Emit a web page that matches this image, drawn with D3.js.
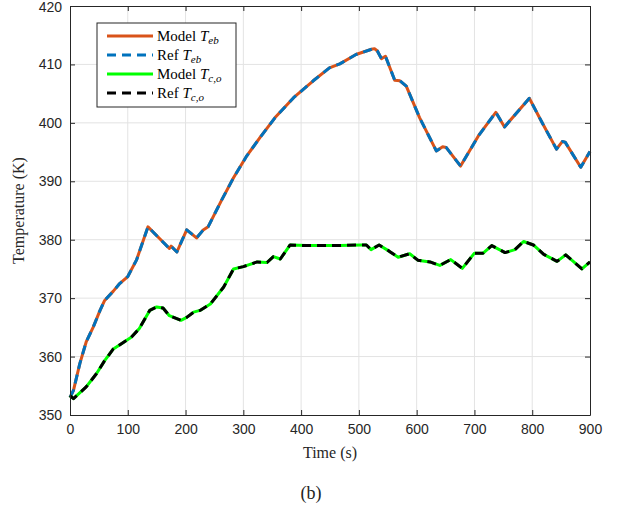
<!DOCTYPE html>
<html>
<head>
<meta charset="utf-8">
<script src="https://cdn.jsdelivr.net/npm/d3@7"></script>
<style>
  body { margin: 0; background: #fff; }
  svg { display: block; }
</style>
</head>
<body>
<svg id="chart" width="623" height="512"></svg>
<script>
// time (s) and temperature (K)
const ebTime = [0, 6, 17, 28, 40, 52, 60, 75, 86, 100, 115, 135, 155, 172, 175, 185, 202, 219, 230, 239, 262, 283, 305, 329, 355, 387, 421, 449, 467, 495, 522, 527, 532, 539, 546, 562, 571, 582, 605, 634, 645, 651, 676, 707, 737, 752, 795, 817, 842, 852, 857, 884, 900];
const ebModel = [353.0, 354.2, 358.8, 362.5, 365, 367.9, 369.6, 371.2, 372.5, 373.7, 376.5, 382.2, 380.2, 378.5, 378.9, 377.9, 381.7, 380.3, 381.6, 382.2, 386.7, 390.6, 394.2, 397.5, 400.9, 404.3, 407.2, 409.4, 410.1, 411.7, 412.6, 412.7, 412.3, 411, 411.4, 407.3, 407.2, 406.3, 400.9, 395.2, 395.9, 395.8, 392.6, 397.8, 401.8, 399.3, 404.2, 400.05, 395.5, 396.8, 396.7, 392.4, 395.1];

const coTime = [0, 6, 28, 46, 60, 75, 89, 106, 120, 138, 150, 161, 172, 192, 202, 214, 225, 243, 266, 283, 300, 324, 341, 352, 364, 381, 410, 467, 504, 513, 521, 535, 553, 568, 588, 602, 623, 640, 659, 679, 700, 715, 730, 753, 770, 785, 802, 820, 843, 858, 886, 900];
const coModel = [353.3, 352.8, 354.8, 357.1, 359.3, 361.3, 362.2, 363.3, 364.8, 367.9, 368.5, 368.3, 367, 366.2, 366.7, 367.6, 367.9, 369, 371.9, 375, 375.4, 376.2, 376.1, 377.1, 376.7, 379.1, 379, 379, 379.1, 379.1, 378.3, 379.1, 378, 377, 377.6, 376.5, 376.2, 375.6, 376.6, 375.1, 377.7, 377.7, 379, 377.8, 378.3, 379.7, 379.1, 377.5, 376.3, 377.4, 375, 376.2];

const xTicks = [0, 100, 200, 300, 400, 500, 600, 700, 800, 900];
const yTicks = [350, 360, 370, 380, 390, 400, 410, 420];

const legendItems = [
  { name: "Model", sub: "eb", sub2: null, color: "#D95319", dash: null, x: ebTime, y: ebModel },
  { name: "Ref", sub: "eb", sub2: null, color: "#0072BD", dash: "9,6", x: ebTime, y: ebModel },
  { name: "Model", sub: "c", sub2: "o", color: "#00FF00", dash: null, x: coTime, y: coModel },
  { name: "Ref", sub: "c", sub2: "o", color: "#000000", dash: "9,6", x: coTime, y: coModel }
];

const svg = d3.select("#chart");
const plotLeft = 70, plotRight = 590, plotTop = 6, plotBottom = 415;

const x = d3.scaleLinear().domain([0, 900]).range([plotLeft, plotRight]);
const y = d3.scaleLinear().domain([350, 420]).range([plotBottom, plotTop]);

// grid
const grid = svg.append("g");
grid.selectAll(".gx").data(xTicks.slice(1, -1)).join("line")
  .attr("x1", d => x(d)).attr("x2", d => x(d))
  .attr("y1", plotTop).attr("y2", plotBottom)
  .attr("stroke", "#e3e3e3").attr("stroke-width", 1);
grid.selectAll(".gy").data(yTicks.slice(1, -1)).join("line")
  .attr("y1", d => y(d)).attr("y2", d => y(d))
  .attr("x1", plotLeft).attr("x2", plotRight)
  .attr("stroke", "#e3e3e3").attr("stroke-width", 1);

// lines
const line = d3.line().curve(d3.curveLinear);
legendItems.forEach(s => {
  const pts = s.x.map((t, i) => [x(t), y(s.y[i])]);
  svg.append("path")
    .attr("d", line(pts))
    .attr("fill", "none")
    .attr("stroke", s.color)
    .attr("stroke-width", 3)
    .attr("stroke-dasharray", s.dash)
    .attr("stroke-linejoin", "round");
});

// axes (ticks pointing inward like matlab)
const axisColor = "#262626";
const xAxis = svg.append("g").attr("transform", `translate(0,${plotBottom})`)
  .call(d3.axisBottom(x).tickValues(xTicks).tickSizeInner(-5).tickSizeOuter(0).tickPadding(9));
const xTop = svg.append("g").attr("transform", `translate(0,${plotTop})`)
  .call(d3.axisTop(x).tickValues(xTicks).tickSizeInner(-5).tickSizeOuter(0).tickFormat(""));
const yAxis = svg.append("g").attr("transform", `translate(${plotLeft},0)`)
  .call(d3.axisLeft(y).tickValues(yTicks).tickSizeInner(-5).tickSizeOuter(0).tickPadding(8));
const yRight = svg.append("g").attr("transform", `translate(${plotRight},0)`)
  .call(d3.axisRight(y).tickValues(yTicks).tickSizeInner(-5).tickSizeOuter(0).tickFormat(""));

[xAxis, xTop, yAxis, yRight].forEach(a => {
  a.select(".domain").attr("stroke", axisColor).attr("stroke-width", 1);
  a.selectAll(".tick line").attr("stroke", axisColor);
  a.selectAll("text").attr("fill", axisColor)
    .style("font-family", "'Liberation Sans', Arial, sans-serif").style("font-size", "14px");
});
// keep the top label inside the frame
yAxis.selectAll(".tick text").filter(d => d === 420).attr("dy", "0.42em");

// axis titles
svg.append("text")
  .attr("x", (plotLeft + plotRight) / 2).attr("y", 458)
  .attr("text-anchor", "middle")
  .style("font-family", "'Liberation Serif', 'DejaVu Serif', serif").style("font-size", "16px")
  .attr("fill", axisColor)
  .text("Time (s)");

svg.append("text")
  .attr("transform", `translate(24,${(plotTop + plotBottom) / 2}) rotate(-90)`)
  .attr("text-anchor", "middle")
  .style("font-family", "'Liberation Serif', 'DejaVu Serif', serif").style("font-size", "16px")
  .attr("fill", axisColor)
  .text("Temperature (K)");

svg.append("text")
  .attr("x", 311).attr("y", 499)
  .attr("text-anchor", "middle")
  .style("font-family", "'Liberation Serif', 'DejaVu Serif', serif").style("font-size", "18px")
  .attr("fill", "#222")
  .text("(b)");

// legend
const lg = svg.append("g").attr("transform", "translate(97,23)");
lg.append("rect")
  .attr("width", 139).attr("height", 84)
  .attr("fill", "#fff").attr("stroke", axisColor).attr("stroke-width", 1);

legendItems.forEach((s, i) => {
  const ry = 13 + i * 19;
  lg.append("line")
    .attr("x1", 10).attr("x2", 56).attr("y1", ry).attr("y2", ry)
    .attr("stroke", s.color).attr("stroke-width", 3)
    .attr("stroke-dasharray", s.dash);
  const t = lg.append("text")
    .attr("x", 60).attr("y", ry + 5)
    .style("font-family", "'Liberation Serif', 'DejaVu Serif', serif").style("font-size", "15px")
    .attr("fill", "#000");
  t.append("tspan").text(s.name + " ");
  t.append("tspan").style("font-style", "italic").text("T");
  const subText = s.sub2 ? s.sub + "," + s.sub2 : s.sub;
  t.append("tspan").attr("dy", 3).style("font-style", "italic").style("font-size", "11px").text(subText);
});
</script>
</body>
</html>
